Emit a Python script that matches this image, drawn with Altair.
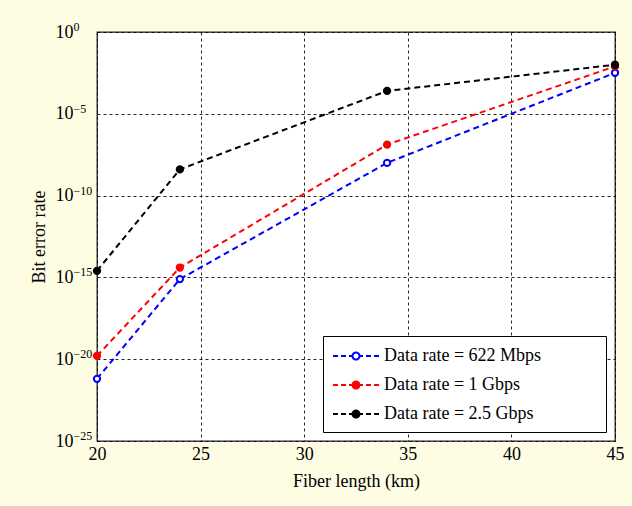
import altair as alt
import pandas as pd

# ---- data ----
fiber_km = [20, 24, 34, 45]
ber_622m = [6.3e-22, 7.9e-16, 1.0e-8, 3.2e-3]
ber_1g = [1.6e-20, 4.0e-15, 1.3e-7, 7.9e-3]
ber_2_5g = [2.5e-15, 4.0e-9, 2.5e-4, 1.0e-2]
series = ["Data rate = 622 Mbps", "Data rate = 1 Gbps", "Data rate = 2.5 Gbps"]
colors = ["#0000ff", "#ff0000", "#000000"]
fills = ["#ffffff", "#ff0000", "#000000"]
x_ticks = [20, 25, 30, 35, 40, 45]
y_exponents = [0, -5, -10, -15, -20, -25]

rows = []
for name, vals in zip(series, [ber_622m, ber_1g, ber_2_5g]):
    for x, v in zip(fiber_km, vals):
        rows.append({"km": x, "ber": v, "series": name})
df = pd.DataFrame(rows)

y_ticks = [10.0 ** e for e in y_exponents]
exp_df = pd.DataFrame({
    "value": y_ticks,
    "exp": [str(e).replace("-", "\u2212") for e in y_exponents],
})

FONT = "Liberation Serif"

sym_path = ("M-1,0L-0.5,0M-0.2,0L0.3,0M0.6,0L0.95,0"
            "M1.65,0L2,0M2.3,0L2.8,0M3.1,0L3.6,0"
            "M1.65,0A0.35,0.35,0,1,1,0.95,0A0.35,0.35,0,1,1,1.65,0")

def make_legend():
    # the (invisible) title on the right only widens the box like the reference's
    return alt.Legend(
        title="MMM",
        titleOrient="right",
        titleColor="transparent",
        titleFont=FONT,
        titleFontSize=19,
        titlePadding=2,
        orient="none",
        legendX=226,
        legendY=304,
        padding=9,
        strokeColor="black",
        fillColor="white",
        symbolType=sym_path,
        symbolSize=400,
        symbolStrokeWidth=2,
        symbolDash=[1, 0],
        symbolOpacity=1,
        labelOffset=30,
        rowPadding=9,
        labelFont=FONT,
        labelFontSize=18,
        labelColor="black",
        labelLimit=500,
    )

x_scale = alt.Scale(domain=[20, 45], nice=False, zero=False)
y_scale = alt.Scale(type="log", domain=[1e-25, 1], nice=False)

x_enc = alt.X("km:Q", scale=x_scale,
              axis=alt.Axis(values=x_ticks, title="Fiber length (km)", titlePadding=9,
                            labelPadding=4, labelFlush=False, format="d"))
y_enc = alt.Y("ber:Q", scale=y_scale,
              axis=alt.Axis(values=y_ticks, labelExpr="'10'", title="Bit error rate",
                            titleX=-49, labelPadding=24, labelFontSize=18))

lines = alt.Chart(df).mark_line(strokeDash=[6, 4], strokeWidth=2).encode(
    x=x_enc, y=y_enc,
    color=alt.Color("series:N", scale=alt.Scale(domain=series, range=colors), legend=make_legend()),
)

points = alt.Chart(df).mark_point(filled=True, size=40, strokeWidth=2, opacity=1, shape="circle").encode(
    x=x_enc, y=y_enc,
    stroke=alt.Stroke("series:N", scale=alt.Scale(domain=series, range=colors), legend=make_legend()),
    fill=alt.Fill("series:N", scale=alt.Scale(domain=series, range=fills), legend=make_legend()),
)

exponents = alt.Chart(exp_df).mark_text(
    align="left", baseline="alphabetic", dy=-1, font=FONT, fontSize=12, color="black"
).encode(
    x=alt.value(-23.5),
    y=alt.Y("value:Q", scale=y_scale),
    text="exp:N",
)

chart = (lines + points + exponents).properties(
    width=518, height=409,
    autosize=alt.AutoSizeParams(type="none"),
    padding={"left": 97, "top": 32, "right": 17, "bottom": 65},
    background="#fefde4",
).configure_view(
    fill="white", stroke="#222222", strokeWidth=1.3
).configure_axis(
    domain=False, ticks=False, tickSize=0,
    grid=True, gridColor="black", gridDash=[3, 3], gridWidth=1, gridOpacity=0.85,
    labelFont=FONT, labelFontSize=18, labelColor="black",
    titleFont=FONT, titleFontSize=18, titleFontWeight="normal", titleColor="black",
)

chart.save("out.html", embed_options={"renderer": "svg", "actions": False})
